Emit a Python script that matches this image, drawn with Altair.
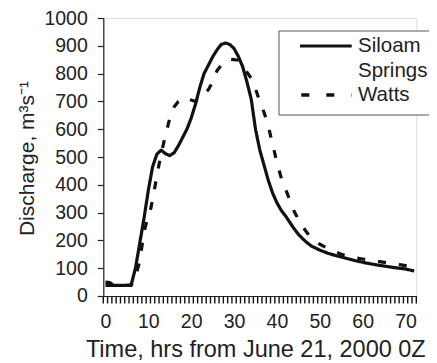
import altair as alt
import pandas as pd

# Siloam Springs (solid)
siloam_t = [0, 1, 3, 5, 6, 7, 8, 9, 10, 11, 12, 13, 14, 15, 16, 17, 18, 19, 20, 21, 22, 23, 24, 25, 26, 27, 28, 29,
            30, 31, 32, 33, 34, 35, 36, 37, 38, 39, 40, 41, 42, 43, 44, 45, 46, 47, 48, 50, 52, 55, 58, 61, 64, 67, 70, 72]
siloam_q = [38, 38, 38, 38, 40, 100, 190, 280, 380, 465, 510, 525, 512, 505, 515, 540, 570, 600, 640, 690, 750, 800, 830, 860, 885, 905, 910, 905,
            890, 862, 825, 770, 708, 600, 525, 470, 415, 370, 335, 308, 288, 265, 242, 222, 206, 192, 180, 165, 153, 140, 128, 118, 110, 103, 97, 90]

# Watts (dashed)
watts_t = [0, 1, 2, 4, 6, 7, 8, 9, 10, 10.6, 11.7, 12.7, 13.9, 15.2, 16, 17, 18, 19, 20, 21, 22, 23, 24, 25, 26, 27, 28, 29,
           30, 31, 32, 33, 34, 35, 36, 37, 38, 39, 40, 41, 42, 43, 44, 45, 46, 47, 48, 49, 50, 52, 55, 58, 60, 63, 66, 69, 71.5]
watts_q = [50, 48, 38, 38, 38, 70, 125, 230, 290, 316, 406, 490, 572, 651, 680, 700, 712, 712, 705, 700, 712, 728, 742, 770, 810, 830, 845, 852,
           850, 848, 830, 805, 783, 745, 700, 660, 610, 545, 480, 425, 385, 345, 305, 275, 250, 228, 210, 197, 186, 170, 150, 138, 133, 126, 119, 112, 105]

series_names = ["Siloam Springs", "Watts"]
x_minor_ticks = [i - 0.5 for i in range(0, 74)]
x_label_values = [0, 10, 20, 30, 40, 50, 60, 70]
y_tick_values = list(range(0, 1001, 100))

df = pd.concat([
    pd.DataFrame({"t": siloam_t, "q": siloam_q, "series": series_names[0]}),
    pd.DataFrame({"t": watts_t, "q": watts_q, "series": series_names[1]}),
])

FONT = "Liberation Sans"
X_SCALE = alt.Scale(domain=[-0.5, 72.5], nice=False, zero=False)

x_enc = alt.X("t:Q", scale=X_SCALE,
              axis=alt.Axis(values=x_label_values, ticks=False, domainColor="#222",
                            domainWidth=1.2, grid=False,
                            labelOverlap=False, labelFlush=False,
                            labelFont=FONT, labelFontSize=19.5, labelColor="#222",
                            labelBaseline="alphabetic", labelPadding=32,
                            title="Time, hrs from June 21, 2000 0Z", titleFont=FONT, titleFontSize=23.5,
                            titleFontWeight="normal", titleColor="#222", titleAlign="center",
                            titleBaseline="alphabetic", titleX=152, titleY=61))
y_enc = alt.Y("q:Q", scale=alt.Scale(domain=[0, 1000], nice=False),
              axis=alt.Axis(values=y_tick_values, format="d", tickSize=6, tickColor="#222", domainColor="#222",
                            tickWidth=1.2, domainWidth=1.2, grid=False,
                            labelFont=FONT, labelFontSize=19.5, labelColor="#222", labelPadding=10,
                            title="Discharge, m³s⁻¹", titleFont=FONT, titleFontSize=21,
                            titleFontWeight="normal", titleColor="#222", titleAngle=270,
                            titleBaseline="alphabetic", titleAlign="center", titleX=-70, titleY=140))

lines = alt.Chart(df).mark_line(color="#111", strokeWidth=3.2, strokeJoin="round").encode(
    x=x_enc, y=y_enc,
    strokeDash=alt.StrokeDash("series:N", scale=alt.Scale(domain=series_names, range=[[1, 0], [8, 13]]),
                              legend=None),
    detail="series:N",
)

# minor ticks below the x axis line (one per hour, between categories)
minor = alt.Chart(pd.DataFrame({"tick": x_minor_ticks})).mark_rule(
    color="#111", strokeWidth=1.4, opacity=1, clip=False).encode(
    x=alt.X("tick:Q", scale=X_SCALE), y=alt.value(278.5), y2=alt.value(285.5))

one = alt.Data(values=[{}])
box = alt.Chart(one).mark_rect(fill="white", stroke="#555", strokeWidth=1).encode(
    x=alt.value(175.7), x2=alt.value(345), y=alt.value(13), y2=alt.value(97))
leg_solid = alt.Chart(one).mark_rule(color="#111", strokeWidth=3.2).encode(
    x=alt.value(196.7), x2=alt.value(248.4), y=alt.value(28))
leg_dash = alt.Chart(one).mark_rule(color="#111", strokeWidth=3.5, strokeDash=[8, 17]).encode(
    x=alt.value(198), x2=alt.value(248.4), y=alt.value(77))
txt_kw = dict(align="left", baseline="middle", font=FONT, fontSize=20.5, color="#222")
t1 = alt.Chart(one).mark_text(**txt_kw).encode(x=alt.value(254.7), y=alt.value(28), text=alt.value("Siloam"))
t2 = alt.Chart(one).mark_text(**txt_kw).encode(x=alt.value(254.7), y=alt.value(53), text=alt.value("Springs"))
t3 = alt.Chart(one).mark_text(**txt_kw).encode(x=alt.value(254.7), y=alt.value(77), text=alt.value("Watts"))

chart = alt.layer(lines, minor, box, leg_solid, leg_dash, t1, t2, t3).properties(
    width=313, height=278,
    autosize=alt.AutoSizeParams(type="none"),
    padding={"left": 95.3, "top": 10, "right": 12.5, "bottom": 70},
).configure_view(stroke=None).configure(background="white")

chart.save("out.html", embed_options={"renderer": "svg", "actions": False})
